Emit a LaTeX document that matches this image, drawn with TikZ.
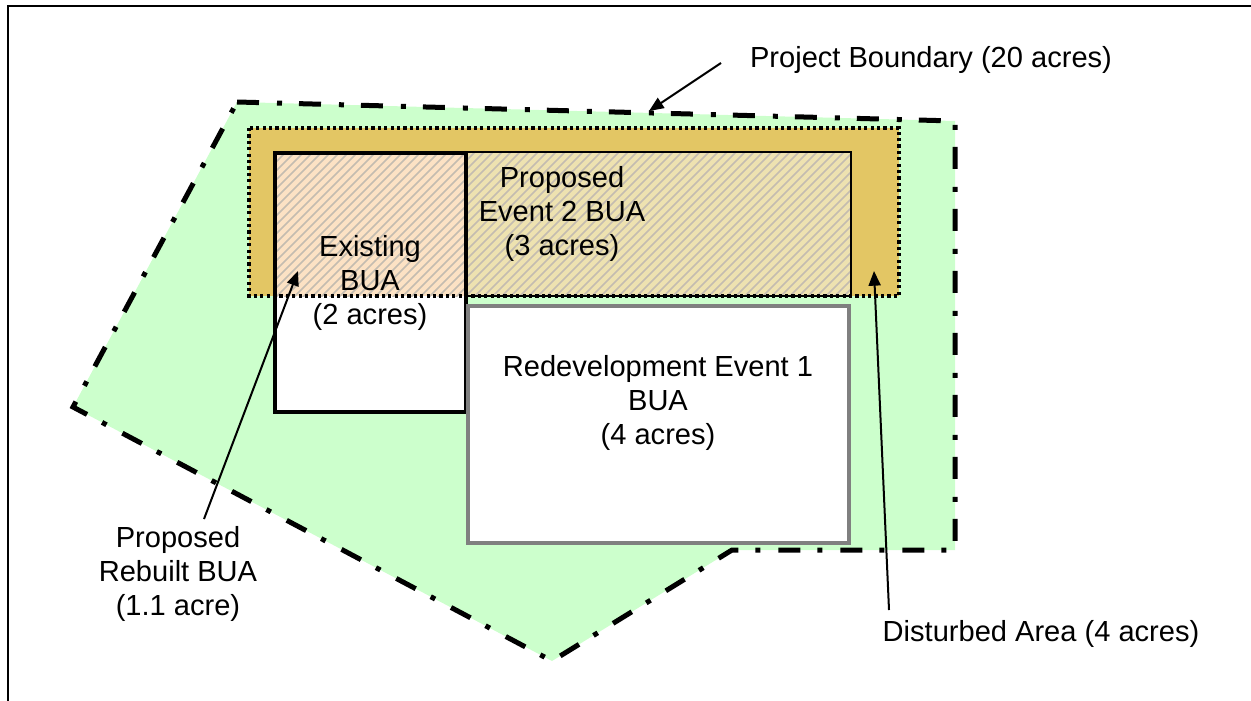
\documentclass[tikz,border=0pt]{standalone}
\usepackage{fontspec}
\setmainfont{Liberation Sans}
\usetikzlibrary{arrows.meta}
\definecolor{boundgreen}{HTML}{CCFFCC}
\definecolor{distgold}{HTML}{E3C664}
\definecolor{peach}{HTML}{FCE2C4}
\definecolor{paleyellow}{HTML}{EEE2B0}
\definecolor{seamcol}{HTML}{B8A888}
\definecolor{hatchcol}{HTML}{C4BCB0}
\definecolor{redevgray}{HTML}{808080}
\begin{document}
\begin{tikzpicture}[x=0.75pt,y=-0.75pt,
  boundary/.style={fill=boundgreen,draw=black,line width=3.75pt,dash pattern=on 16.5pt off 13.5pt on 3.75pt off 12.75pt},
  disturbed/.style={fill=distgold},
  disturbedline/.style={draw=black,line width=2.6pt,dash pattern=on 2.4pt off 2.4pt},
  existing/.style={draw=black,line width=3.4pt},
  eventtwo/.style={draw=black,line width=0.9pt},
  hatchline/.style={draw=hatchcol,line width=1.2pt},
  redev/.style={fill=white,draw=redevgray,line width=3pt},
  lbl/.style={align=center,font=\fontsize{21.8}{25.5}\selectfont,inner sep=0pt},
  arr/.style={draw=black,line width=1.5pt,-{Triangle[length=11pt,width=9pt]}}
]
\useasboundingbox (0,0) rectangle (1251,700);
% outer frame (right and bottom edges lie outside the picture)
\draw[line width=1.5pt] (8,800) -- (8,6) -- (1300,6);
% project boundary
\path[boundary] (237,102) -- (955,121) -- (955,550) -- (732,550) -- (552,661) -- (73,407) -- cycle;
% disturbed area fill
\fill[disturbed] (249,128) rectangle (899,296);
% existing BUA base
\fill[white] (275,153) rectangle (466,412);
\fill[peach] (275,153) rectangle (467,296);
\fill[paleyellow] (467,152) rectangle (851,296);
% hatch
\begin{scope}
\clip (274,152) rectangle (851,296);
\foreach \a in {120,129,...,860} \draw[hatchline] (\a,300) -- (\a+150,150);
\end{scope}
\draw[seamcol,line width=1.5pt] (467,153) -- (467,296);
% existing BUA border
\draw[existing] (275,153) rectangle (466,412);
% event 2 border
\draw[eventtwo] (466,152) -- (851,152) -- (851,296) -- (466,296);
% disturbed border
\draw[disturbedline] (249,128) rectangle (899,296);
% redevelopment event 1
\draw[redev] (468,306) rectangle (849,543);
% labels
\node[lbl] (pb) at (931,60) {Project Boundary (20 acres)};
\node[lbl] (ev2) at (562,214) {Proposed\\Event 2 BUA\\(3 acres)};
\node[lbl] (ex) at (370,283) {Existing\\BUA\\(2 acres)};
\node[lbl] (rd) at (658,403) {Redevelopment Event 1\\BUA\\(4 acres)};
\node[lbl] (rb) at (178,574) {Proposed\\Rebuilt BUA\\(1.1 acre)};
\node[lbl] (da) at (1041,634) {Disturbed Area (4 acres)};
% arrows
\coordinate (pbstart) at (721,63);
\coordinate (pbtip) at (649,111);
\coordinate (rbstart) at (204,519);
\coordinate (rbtip) at (298,271);
\coordinate (dastart) at (889,610);
\coordinate (datip) at (874,271);
\draw[arr] (pbstart) -- (pbtip);
\draw[arr] (rbstart) -- (rbtip);
\draw[arr] (dastart) -- (datip);
\end{tikzpicture}
\end{document}
